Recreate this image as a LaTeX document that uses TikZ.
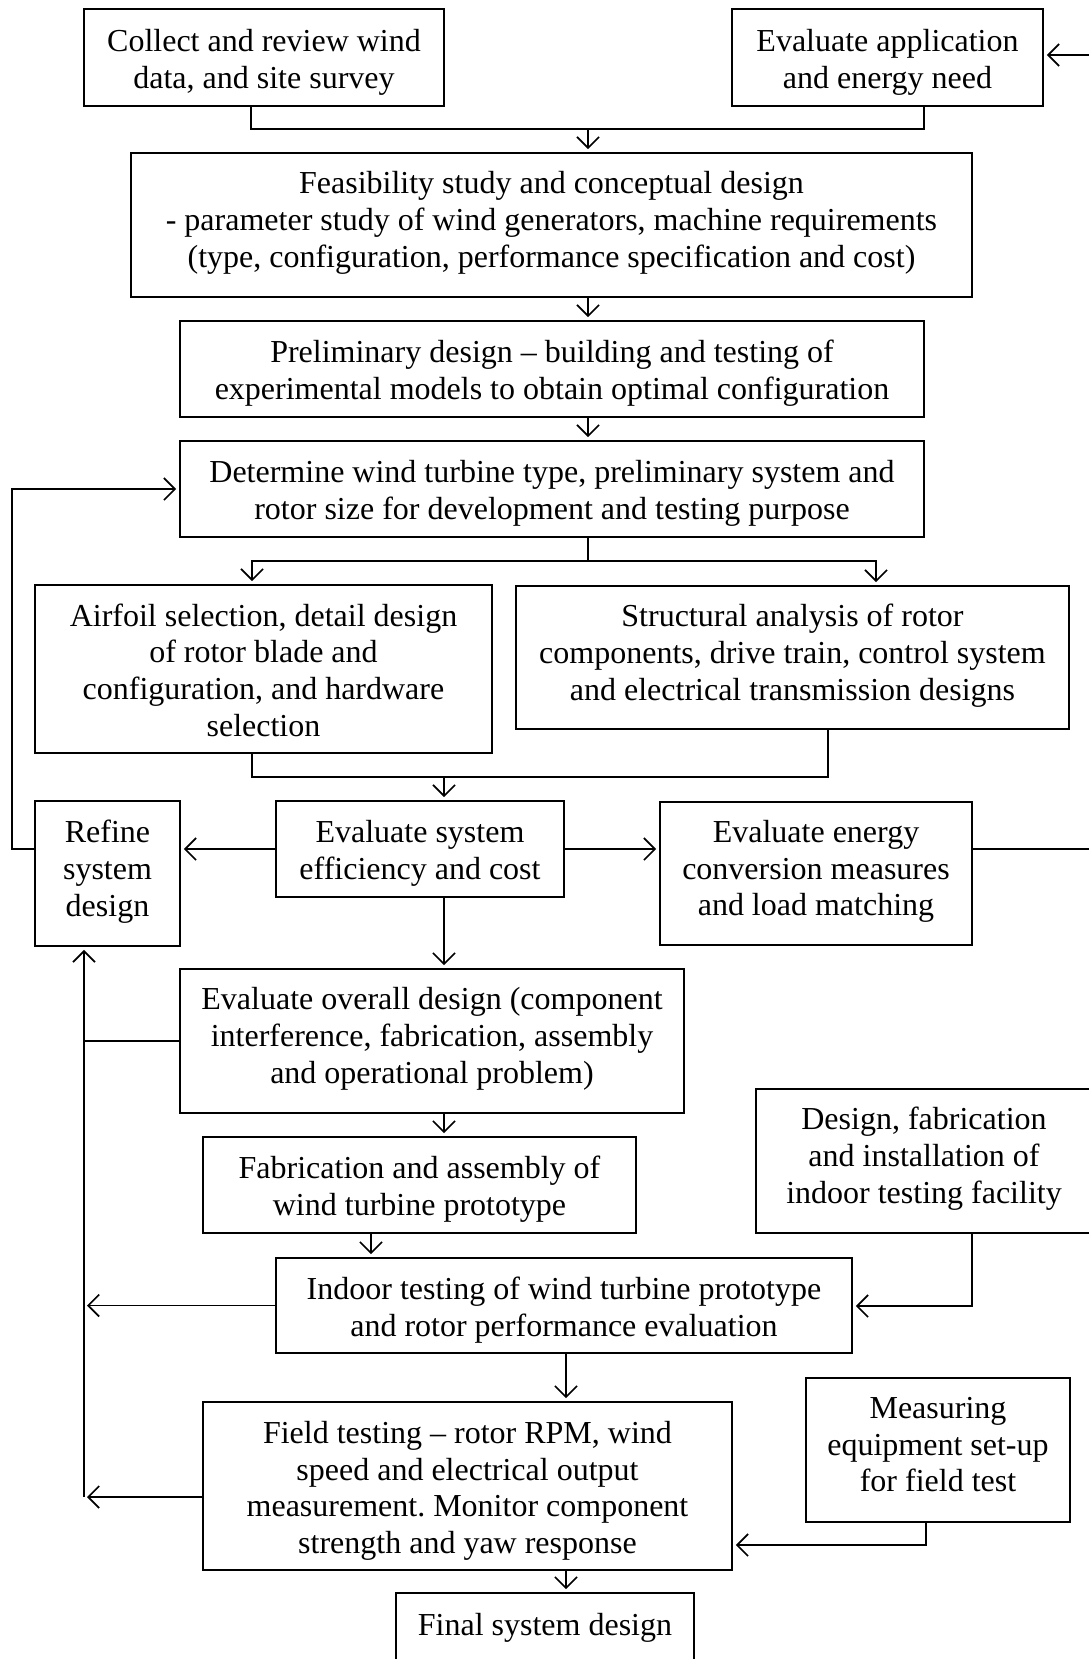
\documentclass[tikz,border=0pt]{standalone}
\usepackage{fontspec}
\setmainfont{Liberation Serif}
\usetikzlibrary{arrows.meta}
\frenchspacing
\begin{document}
\begin{tikzpicture}[x=1pt,y=-1pt,
  bx/.style={draw, line width=1.7pt, align=center, inner sep=0pt,
    font=\fontsize{32}{36.8}\selectfont,
    execute at begin node=\strut, execute at end node=\strut},
  lowtext/.style={execute at end node={\rule{0pt}{#1}}},
  ln/.style={line width=1.7pt},
  arr/.style={ln, -{Straight Barb[length=11pt,width=22pt]}, shorten >=3pt}]
\useasboundingbox (0,0) rectangle (1089,1659);
\clip (0,0) rectangle (1089,1659);
\fill[white] (0,0) rectangle (1089,1659);

% boxes
\node[bx, lowtext=72.6pt, minimum width=360pt, minimum height=97pt] (b1) at (264,57.5) {Collect and review wind\\data, and site survey};
\node[bx, lowtext=72.6pt, minimum width=311pt, minimum height=97pt] (b2) at (887.5,57.5) {Evaluate application\\and energy need};
\node[bx, minimum width=841pt, minimum height=144pt] (b3) at (551.5,225) {Feasibility study and conceptual design\\- parameter study of wind generators, machine requirements\\(type, configuration, performance specification and cost)};
\node[bx, lowtext=72.6pt, minimum width=744pt, minimum height=96pt] (b4) at (552,369) {Preliminary design – building and testing of\\experimental models to obtain optimal configuration};
\node[bx, lowtext=72.6pt, minimum width=744pt, minimum height=96pt] (b5) at (552,489) {Determine wind turbine type, preliminary system and\\rotor size for development and testing purpose};
\node[bx, lowtext=146.2pt, minimum width=457pt, minimum height=168pt] (b6) at (263.5,669) {Airfoil selection, detail design\\of rotor blade and\\configuration, and hardware\\selection};
\node[bx, minimum width=553pt, minimum height=143pt] (b7) at (792.5,657.5) {Structural analysis of rotor\\components, drive train, control system\\and electrical transmission designs};
\node[bx, minimum width=145pt, minimum height=145pt] (b8) at (107.5,873.5) {Refine\\system\\design};
\node[bx, lowtext=72.6pt, minimum width=288pt, minimum height=96pt] (b9) at (420,849) {Evaluate system\\efficiency and cost};
\node[bx, minimum width=312pt, minimum height=143pt] (b10) at (816,873.5) {Evaluate energy\\conversion measures\\and load matching};
\node[bx, minimum width=504pt, minimum height=144pt] (b11) at (432,1041) {Evaluate overall design (component\\interference, fabrication, assembly\\and operational problem)};
\node[bx, lowtext=72.6pt, minimum width=433pt, minimum height=96pt] (b12) at (419.5,1185) {Fabrication and assembly of\\wind turbine prototype};
\node[bx, minimum width=336pt, minimum height=144pt] (b13) at (924,1161) {Design, fabrication\\and installation of\\indoor testing facility};
\node[bx, lowtext=72.6pt, minimum width=576pt, minimum height=95pt] (b14) at (564,1305.5) {Indoor testing of wind turbine prototype\\and rotor performance evaluation};
\node[bx, lowtext=146.2pt, minimum width=529pt, minimum height=168pt] (b15) at (467.5,1486) {Field testing – rotor RPM, wind\\speed and electrical output\\measurement. Monitor component\\strength and yaw response};
\node[bx, minimum width=264pt, minimum height=144pt] (b16) at (938,1450) {Measuring\\equipment set-up\\for field test};
\node[bx, minimum width=298pt, minimum height=80pt] (b17) at (545,1633) {\raisebox{7pt}{Final system design}};

% junction coordinates
\coordinate (j1a) at (251,129);
\coordinate (j1b) at (924,129);
\coordinate (j1) at (588,129);
\coordinate (j2) at (588,561);
\coordinate (j2a) at (252,561);
\coordinate (j2b) at (876,561);
\coordinate (j3a) at (252,777);
\coordinate (j3b) at (828,777);
\coordinate (j3) at (444,777);
\coordinate (j4) at (12,849);
\coordinate (e1) at (1100,849);
\coordinate (e2) at (1100,55);
\coordinate (j6) at (84,1497);
\coordinate (x7) at (371,1245);
\coordinate (j8) at (972,1306);
\coordinate (x9) at (566,1380);
\coordinate (j10) at (926,1545);

% connectors
\draw[ln] (b1.south -| j1a) -- (j1a) -- (j1b) -- (b2.south -| j1b);
\draw[arr] (e2) -- (e2 -| b2.east);
\draw[arr] (j1) -- (b3.north -| j1);
\draw[arr] (b3.south -| j1) -- (b4.north -| j1);
\draw[arr] (b4.south -| j1) -- (b5.north -| j1);
\draw[ln] (b5.south -| j2) -- (j2);
\draw[arr] (j2) -- (j2a) -- (b6.north -| j2a);
\draw[arr] (j2) -- (j2b) -- (b7.north -| j2b);
\draw[ln] (b6.south -| j3a) -- (j3a) -- (j3b) -- (b7.south -| j3b);
\draw[arr] (j3) -- (b9.north -| j3);
\draw[arr] (b9.west) -- (b9.west -| b8.east);
\draw[arr] (b9.east) -- (b9.east -| b10.west);
\draw[arr] (b8.west |- j4) -- (j4) |- (b5.west);
\draw[ln] (b10.east |- e1) -- (e1);
\draw[arr] (b9.south -| j3) -- (b11.north -| j3);
\draw[ln] (b11.west) -- (b11.west -| j6);
\draw[arr] (j6) -- (j6 |- b8.south);
\draw[arr] (b11.south -| j3) -- (b12.north -| j3);
\draw[arr] (b12.south -| x7) -- (b14.north -| x7);
\draw[arr] (b14.west) -- (b14.west -| j6);
\draw[arr] (b13.south -| j8) -- (j8) -- (j8 -| b14.east);
\draw[arr] (b14.south -| x9) -- (b15.north -| x9);
\draw[arr] (b15.west |- j6) -- (j6);
\draw[arr] (b16.south -| j10) -- (j10) -- (j10 -| b15.east);
\draw[arr] (b15.south -| x9) -- (b17.north -| x9);
\end{tikzpicture}
\end{document}
